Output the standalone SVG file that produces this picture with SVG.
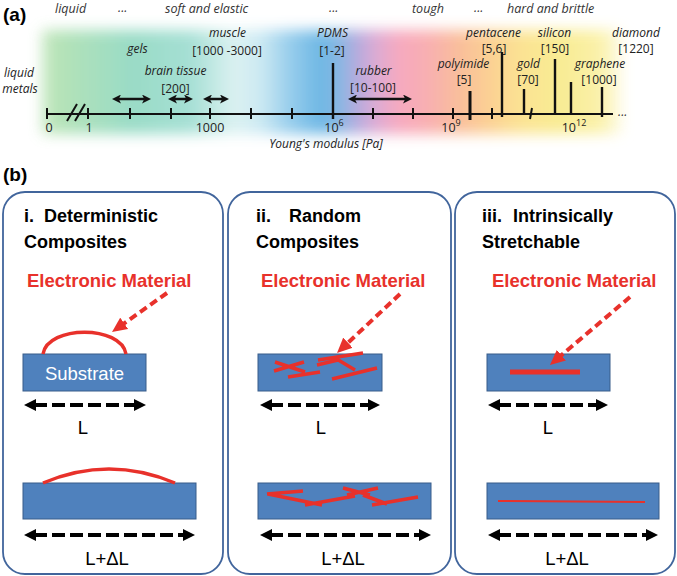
<svg xmlns="http://www.w3.org/2000/svg" width="677" height="576" viewBox="0 0 677 576">
<style>
.it{font-family:"Open Sans","DejaVu Sans",sans-serif;font-style:italic;font-size:12px;fill:#222}
.hd{font-family:"Open Sans","DejaVu Sans",sans-serif;font-style:italic;font-size:12.5px;fill:#333}
.nm{font-family:"Open Sans","DejaVu Sans",sans-serif;font-size:12px;fill:#222}
.ax{font-family:"Open Sans","DejaVu Sans",sans-serif;font-size:12.5px;fill:#222}
.lab{font-family:"Liberation Sans",Arial,sans-serif;font-weight:bold;font-size:19px;fill:#000}
.ttl{font-family:"Liberation Sans",Arial,sans-serif;font-weight:bold;font-size:18px;fill:#000}
.em{font-family:"Liberation Sans",Arial,sans-serif;font-weight:bold;font-size:18.5px;fill:#e8312b}
.txt{font-family:"Liberation Sans",Arial,sans-serif;font-size:18.5px;fill:#000}
.box{fill:#fff;stroke:#41659c;stroke-width:1.8}
.sub{fill:#4f81bd;stroke:#385d8a;stroke-width:1}
.tk{stroke:#111;stroke-width:2;fill:none}
.vl{stroke:#111;stroke-width:2.4;fill:none}
.dbl{stroke:#111;stroke-width:2.5;marker-start:url(#ah);marker-end:url(#ah)}
.len{stroke:#000;stroke-width:4;stroke-dasharray:13,5;marker-start:url(#bh);marker-end:url(#bh)}
.rda{stroke:#e8312b;stroke-width:4;stroke-dasharray:8,4.5;fill:none;marker-end:url(#rh)}
.red{stroke:#e8312b;stroke-width:3.5;fill:none;stroke-linecap:butt}
</style>
<defs>
<linearGradient id="spec" gradientUnits="userSpaceOnUse" x1="40" y1="0" x2="630" y2="0">
<stop offset="0" stop-color="#c4e6bc"/>
<stop offset="0.034" stop-color="#ade0b0"/>
<stop offset="0.153" stop-color="#8fd8c0"/>
<stop offset="0.254" stop-color="#9cdcd0"/>
<stop offset="0.33" stop-color="#d8f0f0"/>
<stop offset="0.373" stop-color="#c8e8f2"/>
<stop offset="0.424" stop-color="#8cc8ea"/>
<stop offset="0.475" stop-color="#5eb0e2"/>
<stop offset="0.508" stop-color="#7cb0e0"/>
<stop offset="0.534" stop-color="#a8a4dc"/>
<stop offset="0.568" stop-color="#d8a2d0"/>
<stop offset="0.61" stop-color="#f7a0b8"/>
<stop offset="0.661" stop-color="#f8a8a8"/>
<stop offset="0.712" stop-color="#f9b890"/>
<stop offset="0.763" stop-color="#fbcc88"/>
<stop offset="0.814" stop-color="#fbe088"/>
<stop offset="0.881" stop-color="#f8ea88"/>
<stop offset="0.949" stop-color="#faf0a0"/>
<stop offset="1" stop-color="#ffffff"/>
</linearGradient>
<filter id="soft" x="-10%" y="-30%" width="120%" height="160%"><feGaussianBlur stdDeviation="7"/></filter>
<marker id="ah" viewBox="0 0 10 10" markerWidth="9" markerHeight="9" refX="3" refY="5" orient="auto-start-reverse" markerUnits="userSpaceOnUse"><path d="M0,0 L10,5 L0,10 L2.5,5 z" fill="#111"/></marker>
<marker id="bh" viewBox="0 0 12 12" markerWidth="12" markerHeight="12" refX="2" refY="6" orient="auto-start-reverse" markerUnits="userSpaceOnUse"><path d="M0,0 L12,6 L0,12 z" fill="#000"/></marker>
<marker id="rh" viewBox="0 0 15 14" markerWidth="15" markerHeight="14" refX="3" refY="7" orient="auto" markerUnits="userSpaceOnUse"><path d="M0,0 L15,7 L0,14 z" fill="#e8312b"/></marker>
</defs>
<rect width="677" height="576" fill="#fff"/>

<g id="panel-a">
<rect x="42" y="30" width="580" height="104" fill="url(#spec)" filter="url(#soft)" opacity="0.9"/>
<text x="3" y="21" class="lab">(a)</text>
<g id="categories">
<text x="55" y="13" class="hd">liquid</text>
<text x="118" y="12" class="hd" font-size="9">...</text>
<text x="165" y="13" class="hd">soft and elastic</text>
<text x="329" y="12" class="hd" font-size="9">...</text>
<text x="412" y="13" class="hd">tough</text>
<text x="474" y="12" class="hd" font-size="9">...</text>
<text x="507" y="13" class="hd">hard and brittle</text>
</g>
<g id="axis">
<line x1="47" y1="114" x2="613" y2="114" class="tk"/>
<text x="618" y="116" class="hd" font-size="9">...</text>
<path class="tk" d="M47,108V119 M88,108V119 M130,108V119 M171,108V119 M210,108V119 M251,108V119 M292,108V119 M373,108V119 M413,108V119 M453,108V119 M492,108V119 M530,119L532,108"/>
<path d="M67,121L77,104 M75,121L85,104" stroke="#111" stroke-width="2" fill="none"/>
<text x="49" y="132" class="ax" text-anchor="middle">0</text>
<text x="89" y="132" class="ax" text-anchor="middle">1</text>
<text x="210" y="132" class="ax" text-anchor="middle">1000</text>
<text x="334" y="132" class="ax" text-anchor="middle">10<tspan dy="-6" font-size="9">6</tspan></text>
<text x="451" y="132" class="ax" text-anchor="middle">10<tspan dy="-6" font-size="9">9</tspan></text>
<text x="574" y="132" class="ax" text-anchor="middle">10<tspan dy="-6" font-size="9">12</tspan></text>
<text x="326" y="148" class="it" font-size="12.5" text-anchor="middle">Young's modulus [Pa]</text>
</g>
<g id="materials">
<text x="19" y="77" class="it" text-anchor="middle">liquid</text>
<text x="20" y="93" class="it" text-anchor="middle">metals</text>
<text x="137.5" y="53" class="it" text-anchor="middle">gels</text>
<text x="175.5" y="75" class="it" text-anchor="middle">brain tissue</text>
<text x="175.5" y="93" class="nm" text-anchor="middle">[200]</text>
<text x="227.5" y="37" class="it" text-anchor="middle">muscle</text>
<text x="227" y="55" class="nm" text-anchor="middle">[1000 -3000]</text>
<text x="332.5" y="37" class="it" text-anchor="middle">PDMS</text>
<text x="332" y="55" class="nm" text-anchor="middle">[1-2]</text>
<text x="373.5" y="75" class="it" text-anchor="middle">rubber</text>
<text x="373" y="92" class="nm" text-anchor="middle">[10-100]</text>
<text x="463.5" y="68" class="it" text-anchor="middle">polyimide</text>
<text x="464" y="84" class="nm" text-anchor="middle">[5]</text>
<text x="493.5" y="37" class="it" text-anchor="middle">pentacene</text>
<text x="494" y="53" class="nm" text-anchor="middle">[5,6]</text>
<text x="528.5" y="68" class="it" text-anchor="middle">gold</text>
<text x="528" y="84" class="nm" text-anchor="middle">[70]</text>
<text x="554.5" y="37" class="it" text-anchor="middle">silicon</text>
<text x="555" y="53" class="nm" text-anchor="middle">[150]</text>
<text x="600" y="68" class="it" text-anchor="middle">graphene</text>
<text x="599" y="84" class="nm" text-anchor="middle">[1000]</text>
<text x="636" y="37" class="it" text-anchor="middle">diamond</text>
<text x="636" y="53" class="nm" text-anchor="middle">[1220]</text>
<path class="vl" d="M333,63V119 M502,52V117 M524,89V114 M555,59V114 M571,82V114 M602,87V117"/>
<path d="M470,91V120" stroke="#111" stroke-width="3" fill="none"/>
<line x1="118.3" y1="99" x2="144.7" y2="99" class="dbl"/>
<line x1="174.3" y1="99" x2="186.7" y2="99" class="dbl"/>
<line x1="209.3" y1="99" x2="222.7" y2="99" class="dbl"/>
<line x1="354.3" y1="99" x2="405.7" y2="99" class="dbl"/>
</g>
</g>

<text x="3" y="181" class="lab">(b)</text>

<g id="box-deterministic">
<rect x="3" y="192" width="220" height="382" rx="22" class="box"/>
<text y="222" class="ttl"><tspan x="24">i.</tspan><tspan x="44">Deterministic</tspan></text>
<text x="24" y="248" class="ttl">Composites</text>
<text x="27" y="287" class="em">Electronic Material</text>
<rect x="23" y="354" width="123" height="37" class="sub"/>
<path d="M43,354 C48,325 121,325 126,354" class="red"/>
<text x="84.5" y="380" class="txt" style="fill:#fff" text-anchor="middle">Substrate</text>
<line x1="34" y1="405" x2="136" y2="405" class="len"/>
<text x="83" y="434" class="txt" text-anchor="middle">L</text>
<rect x="23" y="483" width="173" height="36" class="sub"/>
<path d="M43,483 Q109,455 175,483" class="red"/>
<line x1="34" y1="535" x2="185" y2="535" class="len"/>
<text x="107" y="565" class="txt" text-anchor="middle">L+ΔL</text>
</g>

<g id="box-random">
<rect x="228" y="192" width="223" height="382" rx="22" class="box"/>
<text y="222" class="ttl"><tspan x="256">ii.</tspan><tspan x="289">Random</tspan></text>
<text x="256" y="248" class="ttl">Composites</text>
<text x="261" y="287" class="em">Electronic Material</text>
<rect x="258" y="354" width="124" height="37" class="sub"/>
<path class="red" d="M274,371L304,362 M275,362L305,372 M288,377L320,372 M318,360L363,353 M317,365L338,360 M332,379L377,368 M335,358L355,370"/>
<line x1="270" y1="405" x2="370" y2="405" class="len"/>
<text x="321" y="434" class="txt" text-anchor="middle">L</text>
<rect x="258" y="483" width="173" height="36" class="sub"/>
<path class="red" d="M267,494L303,491 M268,494L322,505 M305,505L355,496 M343,488L370,495 M347,495L378,488 M372,505L418,497 M363,495L387,504"/>
<line x1="270" y1="535" x2="421" y2="535" class="len"/>
<text x="343" y="565" class="txt" text-anchor="middle">L+ΔL</text>
</g>

<g id="box-intrinsic">
<rect x="455" y="192" width="220" height="382" rx="22" class="box"/>
<text y="222" class="ttl"><tspan x="482">iii.</tspan><tspan x="513">Intrinsically</tspan></text>
<text x="482" y="248" class="ttl">Stretchable</text>
<text x="492" y="287" class="em">Electronic Material</text>
<rect x="487" y="354" width="123" height="37" class="sub"/>
<line x1="510" y1="372" x2="580" y2="372" stroke="#e8312b" stroke-width="5"/>
<line x1="498" y1="405" x2="598" y2="405" class="len"/>
<text x="548" y="434" class="txt" text-anchor="middle">L</text>
<rect x="487" y="483" width="172" height="36" class="sub"/>
<line x1="498" y1="501" x2="645" y2="502" stroke="#e8312b" stroke-width="2"/>
<line x1="498" y1="535" x2="648" y2="535" class="len"/>
<text x="567" y="565" class="txt" text-anchor="middle">L+ΔL</text>
</g>

<g id="connectors">
<line x1="167" y1="293" x2="121.8" y2="325.1" class="rda"/>
<line x1="400" y1="294" x2="345.8" y2="344.8" class="rda"/>
<line x1="630" y1="297" x2="559.1" y2="357.2" class="rda"/>
</g>
</svg>
